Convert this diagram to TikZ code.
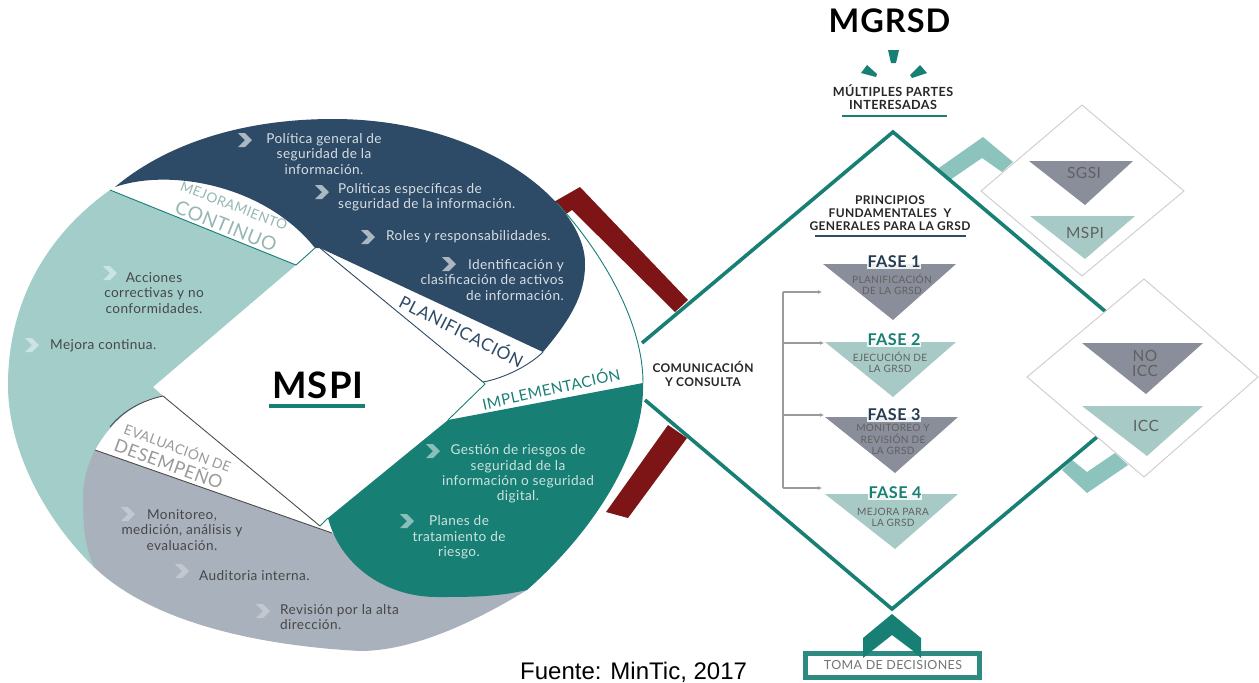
\documentclass[tikz,border=0pt]{standalone}
\usepackage{fontspec}
\usetikzlibrary{arrows.meta}
\setmainfont[LetterSpace=3]{Lato}
\newfontfamily\arialf{Liberation Sans}
\definecolor{navy}{HTML}{2D4A66}
\definecolor{lteal}{HTML}{A2CDC9}
\definecolor{greyb}{HTML}{A9B1BC}
\definecolor{green}{HTML}{187F74}
\definecolor{dred}{HTML}{7D1517}
\definecolor{chevt}{HTML}{8CC4BD}
\definecolor{trigrey}{HTML}{8A8D9A}
\definecolor{triteal}{HTML}{A8CAC6}
\definecolor{brk}{HTML}{9A9A9A}
\tikzset{
 body/.style={font=\fontsize{13.6}{15.4}\selectfont,align=center,inner sep=0pt},
 light/.style={body,text=white!82!navy},
 lightg/.style={body,text=white!78!green},
 darktx/.style={body,text=black!72},
 bandS/.style={font=\fontsize{13.7}{15}\selectfont,inner sep=0pt},
 bandL/.style={font=\fontsize{19.2}{22}\selectfont,inner sep=0pt},
 heads/.style={align=center,inner sep=0pt,text=black!85},
 fasehd/.style={font=\bfseries\fontsize{16.2}{17}\selectfont,inner sep=1pt,fill=white,fill opacity=.85,text opacity=1},
 fasetx/.style={font=\fontsize{10.1}{11.3}\selectfont,align=center,inner sep=0pt,text=black!62},
 trilab/.style={font=\fontsize{15.5}{15.5}\selectfont,align=center,inner sep=0pt,text=black!62},
 sidedia/.style={draw=black!20,line width=.9pt,fill=white},
 bigline/.style={draw=green,line width=3.6pt},
 brkline/.style={draw=brk,line width=1.2pt},
 chevmark/.pic={\fill[pic actions] (-7,-7) -- (0,-7) -- (7,0) -- (0,7) -- (-7,7) -- (0,0) -- cycle;}
}
\begin{document}
\begin{tikzpicture}[x=1pt,y=-1pt]
\useasboundingbox (0,0) rectangle (1259,683);
% dark red brackets
\fill[dred] (552,203) -- (580,187) -- (688,300) -- (675,312) -- (572,210) -- (560,218) -- cycle;
\fill[dred] (668,425) -- (687,438) -- (628,518) -- (606,512) -- cycle;
% light teal sector
\fill[lteal] (110,190) -- (296,265) -- (153,387) -- (163,396)
  .. controls (135,402) and (112,420) .. (95,450) -- (95,568)
  .. controls (45,520) and (8,450) .. (8,385)
  .. controls (8,310) and (40,240) .. (110,190) -- cycle;
% grey sector
\fill[greyb] (95,450) -- (332,533) -- (420,580) -- (527,590)
  .. controls (470,625) and (410,651) .. (360,651)
  .. controls (250,645) and (150,620) .. (95,568)
  .. controls (85,550) and (83,525) .. (83,500)
  .. controls (83,485) and (85,470) .. (95,450) -- cycle;
% green sector
\fill[green] (448,420) -- (643,383)
  .. controls (645,450) and (595,530) .. (527,590)
  .. controls (497,597) and (470,597) .. (437,597)
  .. controls (385,597) and (340,565) .. (328,518) -- cycle;
% navy sector
\fill[navy] (320,248) -- (543,352)
  .. controls (570,320) and (585,295) .. (585,265)
  .. controls (587,205) and (485,119) .. (333,119)
  .. controls (240,119) and (165,145) .. (115,187)
  .. controls (170,168) and (265,185) .. (315,248) -- cycle;
% thin outlines of the bands
\draw[green,line width=.9pt] (110,190) -- (296,265) -- (315,248);
\draw[navy,line width=.9pt] (320,248) -- (483,382) .. controls (505,378) and (530,365) .. (543,352);
\draw[green,line width=.9pt] (557,203) .. controls (600,250) and (643,320) .. (643,383);
\draw[green,line width=.9pt] (448,420) -- (485,384) -- (483,382);
\draw[black!70,line width=.9pt] (95,450) -- (332,533) (320,526) -- (163,396) .. controls (140,401) and (122,412) .. (110,427);
\draw[green,line width=.9pt] (320,526) -- (328,518);
% underline and title MSPI
\node[font=\fontsize{36.5}{38}\selectfont\bfseries,inner sep=0pt] (mspi) at (318,385) {MSPI};
\draw[green,line width=3.6pt] (269,406) -- (365,406);
% band labels
\node[bandS,rotate=-21,text=lteal!85!black!90] (mej) at (234,206) {MEJORAMIENTO};
\node[bandL,rotate=-22,text=lteal!85!black!90] (con) at (226,226) {CONTINUO};
\node[bandS,font=\fontsize{13.8}{15}\selectfont,rotate=-20.5,text=black!40] (eva) at (178,447) {EVALUACIÓN DE};
\node[font=\fontsize{17.9}{21}\selectfont,inner sep=0pt,rotate=-20,text=black!40] (des) at (169,463) {DESEMPEÑO};
\node[font=\fontsize{17.3}{19}\selectfont,inner sep=0pt,rotate=-27,text=navy] (pla) at (462,330) {PLANIFICACIÓN};
\node[font=\fontsize{15.2}{19}\selectfont,inner sep=0pt,rotate=12.5,text=green] (imp) at (551,388) {IMPLEMENTACIÓN};
% chevrons
\foreach \p in {(245,140),(322,192),(368,237),(449,264)} \path[fill=white!60!navy] \p pic {chevmark};
\foreach \p in {(110,273),(32,345)} \path[fill=white!45!lteal] \p pic {chevmark};
\foreach \p in {(128,514),(182,571),(263,611)} \path[fill=white!30!greyb] \p pic {chevmark};
\foreach \p in {(433,451),(407,521)} \path[fill=white!50!green] \p pic {chevmark};
% sector texts
\node[light] (n1) at (324,154) {Política general de\\seguridad de la\\información.};
\node[light,align=left,anchor=west] (n2) at (338,197.5) {Políticas específicas de\\seguridad de la información.};
\node[light,anchor=west] (n3) at (386,237) {Roles y responsabilidades.};
\node[light,align=right,anchor=east] (n4) at (564,280) {Identificación y\\clasificación de activos\\de información.};
\node[darktx] (t1) at (154,293) {Acciones\\correctivas y no\\conformidades.};
\node[darktx,anchor=west] (t2) at (50,346) {Mejora continua.};
\node[darktx] (g1) at (182,530) {Monitoreo,\\medición, análisis y\\evaluación.};
\node[darktx,anchor=west] (g2) at (199,576) {Auditoria interna.};
\node[darktx,align=left,anchor=west] (g3) at (280,617) {Revisión por la alta\\dirección.};
\node[lightg] (v1) at (518,474) {Gestión de riesgos de\\seguridad de la\\información o seguridad\\digital.};
\node[lightg] (v2) at (459,537.5) {Planes de\\tratamiento de\\riesgo.};
% light chevrons behind the side diamonds
\fill[chevt] (936,170) -- (983,137) -- (1013,162) -- (1002,172) -- (982,158) -- (950,180) -- cycle;
\fill[chevt] (1062,470) -- (1072,460) -- (1087,472) -- (1115,453) -- (1128,465) -- (1087,493) -- cycle;
% big diamond
\coordinate (dl1) at (642,343);
\coordinate (dt) at (893,132);
\coordinate (dr1) at (1106,312);
\coordinate (dl2) at (645,400);
\coordinate (db) at (892,609);
\coordinate (dr2) at (1097,437);
\draw[bigline,line join=miter] (dl1) -- (dt) -- (dr1);
\draw[bigline,line join=miter] (dl2) -- (db) -- (dr2);
% side diamonds
\path[sidedia] (1082,105) -- (1184,191) -- (1082,276) -- (981,191) -- cycle;
\path[sidedia] (1144,279) -- (1258,377) -- (1144,477) -- (1027,377) -- cycle;
\fill[trigrey] (1029,161) -- (1133,161) -- (1085,205) -- cycle;
\fill[triteal] (1030,216) -- (1135,216) -- (1085,259) -- cycle;
\fill[trigrey] (1082,343) -- (1203,343) -- (1146,394) -- cycle;
\fill[triteal] (1082,406) -- (1203,406) -- (1147,456) -- cycle;
\node[trilab] (sgsi) at (1084,173) {SGSI};
\node[trilab] (mspib) at (1085,233) {MSPI};
\node[trilab] (noicc) at (1145,363.5) {NO\\ICC};
\node[trilab] (icc) at (1146,426) {ICC};
% heading MGRSD
\node[font=\fontsize{32.5}{34}\selectfont\bfseries,inner sep=0pt] (mgrsd) at (889.5,21) {MGRSD};
\fill[green] (888,50) -- (899,50) -- (896,63) -- (891,63) -- cycle;
\fill[green] (867,65) -- (877,74) -- (876,77) -- (861,73) -- cycle;
\fill[green] (920,65) -- (927,73) -- (912,78) -- (910,75) -- cycle;
\node[heads,font=\bfseries\fontsize{12.6}{13.4}\selectfont] (mpi) at (893,97) {MÚLTIPLES PARTES\\INTERESADAS};
\draw[green,line width=2.8pt] (842,116) -- (947,116);
\node[heads,font=\bfseries\fontsize{12}{13}\selectfont] (pfg) at (890,213) {PRINCIPIOS\\FUNDAMENTALES~~Y\\GENERALES PARA LA GRSD};
\draw[navy,line width=2.4pt] (815,236) -- (966,236);
\node[heads,font=\bfseries\fontsize{12}{14}\selectfont] (cyc) at (703,373.5) {COMUNICACIÓN\\Y CONSULTA};
% phases
\fill[trigrey] (823,264) -- (956,264) -- (893,320) -- cycle;
\fill[triteal] (825,342) -- (956,342) -- (893,397) -- cycle;
\fill[trigrey] (825,417) -- (958,417) -- (895,473) -- cycle;
\fill[triteal] (825,494) -- (958,494) -- (895,549) -- cycle;
\node[fasehd,text=navy!80!black] (f1) at (894,262) {FASE 1};
\node[fasehd,text=green] (f2) at (894,340) {FASE 2};
\node[fasehd,text=navy!80!black] (f3) at (894,415) {FASE 3};
\node[fasehd,text=green] (f4) at (895,493) {FASE 4};
\node[fasetx] (p1) at (892,284.5) {PLANIFICACIÓN\\DE LA GRSD};
\node[fasetx] (p2) at (890,362.5) {EJECUCIÓN DE\\LA GRSD};
\node[fasetx] (p3) at (893,439.5) {MONITOREO Y\\REVISIÓN DE\\LA GRSD};
\node[fasetx] (p4) at (893,517.5) {MEJORA PARA\\LA GRSD};
% bracket
\coordinate (bt) at (783,292);
\coordinate (b2) at (783,343);
\coordinate (b3) at (783,415);
\coordinate (bb) at (783,488);
\coordinate (e1) at (822,292);
\coordinate (e2) at (824,343);
\coordinate (e3) at (824,415);
\coordinate (e4) at (822,488);
\draw[brkline] (bt) -- (bb);
\foreach \a/\b in {bt/e1,b2/e2,b3/e3,bb/e4} \draw[brkline,-{Latex[length=4pt,width=4pt]}] (\a) -- (\b);
% decision box
\draw[draw=green!85!lteal,line width=5.4pt] (805.7,653.4) rectangle (979.3,677.6);
\fill[green] (892,614) -- (921,638) -- (921,658) -- (912,650) -- (892,635) -- (873,650) -- (863,658) -- (863,638) -- cycle;
\node[font=\fontsize{12.5}{13}\selectfont,inner sep=0pt,text=black!55] (toma) at (893,665) {TOMA DE DECISIONES};
\node[font=\arialf\fontsize{24}{26}\selectfont,inner sep=0pt,anchor=west] (fuente) at (520,672) {Fuente: MinTic, 2017};
\end{tikzpicture}
\end{document}
